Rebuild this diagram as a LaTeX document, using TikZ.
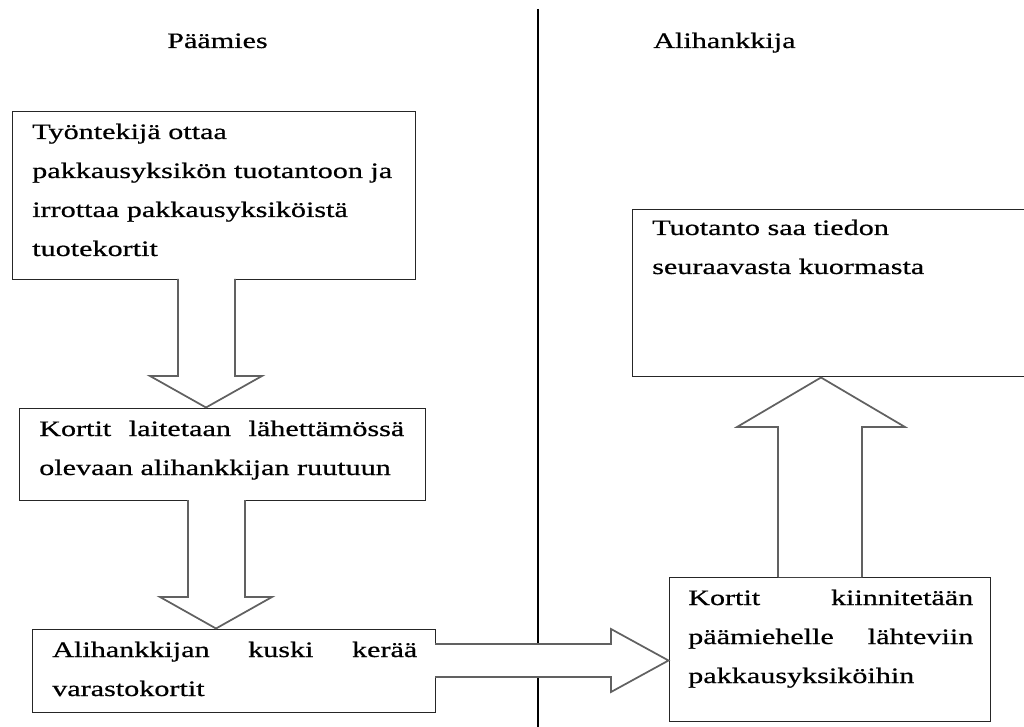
\documentclass[tikz,border=0pt]{standalone}
\usepackage{fontspec}
\setmainfont{Liberation Serif}[FakeStretch=1.37,FakeBold=0.6]
\begin{document}
\begin{tikzpicture}[x=0.75pt,y=-0.75pt,
  box/.style={draw=black!85, line width=1.1pt, fill=white, inner sep=0pt, anchor=north west},
  txt/.style={anchor=base west, inner sep=0pt, align=left, font=\fontsize{16.5}{29.25}\selectfont},
  blockarrow/.style={draw=black!62, line width=1.3pt, fill=white, line join=miter}]
\useasboundingbox (0,0) rectangle (1024,727);
% divider
\coordinate (dtop) at (538,9);
\coordinate (dbot) at (538,727);
\draw[black, line width=1.2pt] (dtop) -- (dbot);
% headers
\node[txt] (h1) at (167,48) {Päämies};
\node[txt] (h2) at (653,48) {Alihankkija};
% boxes
\node[box, minimum width=302.25pt, minimum height=126pt] (b1) at (12,111) {};
\node[box, minimum width=304.5pt, minimum height=69pt] (b2) at (19,408) {};
\node[box, minimum width=302.25pt, minimum height=62.25pt] (b3) at (32,629) {};
\node[box, minimum width=240.75pt, minimum height=108pt] (b4) at (669,577) {};
\node[box, minimum width=300pt, minimum height=125.25pt] (b5) at (632,209) {};
% texts (anchored at the baseline of their last line)
\node[txt] (t1) at (32,256) {Työntekijä ottaa\\pakkausyksikön tuotantoon ja\\irrottaa pakkausyksiköistä\\tuotekortit};
\node[txt] (t2) at (39,475) {\makebox[273.75pt][s]{Kortit laitetaan lähettämössä}\\olevaan alihankkijan ruutuun};
\node[txt] (t3) at (52,696) {\makebox[273.75pt][s]{Alihankkijan kuski kerää}\\varastokortit};
\node[txt] (t4) at (688,683) {\makebox[213.75pt][s]{Kortit kiinnitetään}\\\makebox[213.75pt][s]{päämiehelle lähteviin}\\pakkausyksiköihin};
\node[txt] (t5) at (652,274) {Tuotanto saa tiedon\\seuraavasta kuormasta};
% block arrows
\draw[blockarrow] (178,279) -- (178,376) -- (150,376) -- (206,407.5) -- (262,376) -- (235,376) -- (235,279);
\draw[blockarrow] (188,500) -- (188,597) -- (160,597) -- (216,628.5) -- (272,597) -- (245,597) -- (245,500);
\draw[blockarrow] (435,644) -- (611,644) -- (611,629) -- (668.5,660.5) -- (611,692) -- (611,677) -- (435,677);
\draw[blockarrow] (778,577) -- (778,427) -- (737,427) -- (821,377.5) -- (905,427) -- (862,427) -- (862,577);
\end{tikzpicture}
\end{document}
